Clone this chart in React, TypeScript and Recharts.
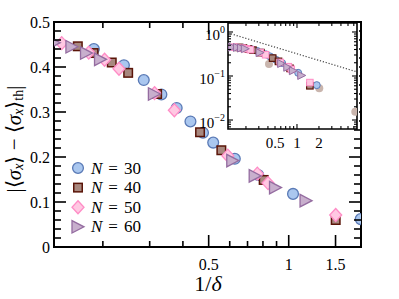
import React from 'react';
import { ScatterChart, Scatter, XAxis, YAxis, ReferenceArea, Legend } from 'recharts';

// ---------------- data ----------------
const n30X = [0.185, 0.24, 0.285, 0.332, 0.379, 0.427, 0.476, 0.52, 0.627, 0.768, 1.038, 1.865];
const n30Y = [0.44, 0.404, 0.371, 0.339, 0.309, 0.279, 0.254, 0.232, 0.196, 0.16, 0.118, 0.062];

const n40X = [0.161, 0.1846, 0.216, 0.249, 0.32, 0.464, 0.558, 0.805, 1.502];
const n40Y = [0.446, 0.431, 0.41, 0.387, 0.34, 0.255, 0.215, 0.149, 0.06];

const n50X = [0.14, 0.177, 0.203, 0.23, 0.313, 0.3715, 0.59, 0.762, 0.836, 1.502];
const n50Y = [0.453, 0.432, 0.416, 0.396, 0.342, 0.304, 0.203, 0.163, 0.142, 0.071];

const n60X = [0.1313, 0.153, 0.1736, 0.196, 0.3125, 0.616, 0.748, 0.892, 1.162];
const n60Y = [0.454, 0.445, 0.431, 0.417, 0.34, 0.192, 0.158, 0.132, 0.103];

const grayX = [0.4135, 2.02, 6.29];
const grayY = [0.187, 0.0526, 0.01545];

const guideX = [0.1135, 6.64];
const guideY = [0.95, 0.124];

const legendNames = ['30', '40', '50', '60'];

const mainXDomain = [0.131, 1.87];
const mainYDomain = [0, 0.5];
const mainXTicks = [0.2, 0.3, 0.4, 0.5, 0.6, 0.7, 0.8, 0.9, 1, 1.5];
const mainXMajor = [0.5, 1, 1.5];
const mainXLabels = ['0.5', '1', '1.5'];
const mainYTicks = [0, 0.02, 0.04, 0.06, 0.08, 0.1, 0.12, 0.14, 0.16, 0.18, 0.2, 0.22, 0.24, 0.26, 0.28, 0.3, 0.32, 0.34, 0.36, 0.38, 0.4, 0.42, 0.44, 0.46, 0.48, 0.5];
const mainYMajor = [0, 0.1, 0.2, 0.3, 0.4, 0.5];
const mainYLabels = ['0', '0.1', '0.2', '0.3', '0.4', '0.5'];

const insetXDomain = [0.1135, 6.64];
const insetYDomain = [0.00625, 1.6];
const insetXTicks = [0.2, 0.3, 0.4, 0.5, 0.6, 0.7, 0.8, 0.9, 1, 2, 3, 4, 5, 6];
const insetXMajor = [0.5, 1, 2];
const insetXLabels = ['0.5', '1', '2'];
const insetYTicks = [0.007, 0.008, 0.009, 0.01, 0.02, 0.03, 0.04, 0.05, 0.06, 0.07, 0.08, 0.09, 0.1, 0.2, 0.3, 0.4, 0.5, 0.6, 0.7, 0.8, 0.9, 1];
const insetYMajor = [0.01, 0.1, 1];
const insetYExp = ['−2', '−1', '0'];

const zip = (xs: number[], ys: number[]) => xs.map((x, i) => ({ x, y: ys[i] }));
const d30 = zip(n30X, n30Y);
const d40 = zip(n40X, n40Y);
const d50 = zip(n50X, n50Y);
const d60 = zip(n60X, n60Y);
const dGray = zip(grayX, grayY);
const dGuide = zip(guideX, guideY);

// ---------------- styles ----------------
const FONT = '"Liberation Serif", "Times New Roman", serif';
const C30 = { fill: '#aac7ef', stroke: '#5a7ab6' };
const C40 = { fill: '#a8887f', stroke: '#5a1408' };
const C50 = { fill: '#ffc8e2', stroke: '#ff8cc6' };
const C60 = { fill: '#c8afcd', stroke: '#946ca0' };
const CGRAY = { fill: '#c9b5ad' };

// main plot box
const M_LEFT = 54, M_RIGHT = 361, M_TOP = 22, M_BOTTOM = 247;
// inset box
const I_LEFT = 228, I_RIGHT = 357, I_TOP = 23, I_BOTTOM = 129;

// ---------------- shapes ----------------
const circle = (r: number, c: any, sw = 1.3) => (p: any) => (
  <circle cx={p.cx} cy={p.cy} r={r} fill={c.fill} stroke={c.stroke || 'none'} strokeWidth={sw} />
);
const square = (s: number, c: any, sw = 1.5) => (p: any) => (
  <rect x={p.cx - s / 2} y={p.cy - s / 2} width={s} height={s} fill={c.fill} stroke={c.stroke} strokeWidth={sw} />
);
const diamond = (w: number, h: number, c: any, sw = 1.3) => (p: any) => (
  <polygon
    points={`${p.cx},${p.cy - h / 2} ${p.cx + w / 2},${p.cy} ${p.cx},${p.cy + h / 2} ${p.cx - w / 2},${p.cy}`}
    fill={c.fill}
    stroke={c.stroke}
    strokeWidth={sw}
  />
);
const triangle = (w: number, h: number, c: any, sw = 1.3) => (p: any) => (
  <polygon
    points={`${p.cx - w / 2},${p.cy - h / 2} ${p.cx + w / 2},${p.cy} ${p.cx - w / 2},${p.cy + h / 2}`}
    fill={c.fill}
    stroke={c.stroke}
    strokeWidth={sw}
  />
);
const nothing = () => <g />;

const mainShapes = [circle(5.4, C30), square(8.5, C40), diamond(12, 13, C50), triangle(12, 12.5, C60)];
const insetShapes = [circle(3.5, C30, 1), square(6.5, C40, 1.2), square(6.5, C50, 1), triangle(8, 8, C60, 1)];

// ---------------- ticks ----------------
const MainXTick = (props: any) => {
  const { x, payload } = props;
  const v = payload.value;
  const mi = mainXMajor.indexOf(v);
  const len = mi >= 0 ? 12 : 6;
  return (
    <g>
      <line x1={x} x2={x} y1={M_BOTTOM} y2={M_BOTTOM - len} stroke="#000" strokeWidth={1.6} />
      <line x1={x} x2={x} y1={M_TOP} y2={M_TOP + len} stroke="#000" strokeWidth={1.6} />
      {mi >= 0 && (
        <text x={x} y={M_BOTTOM + 23} textAnchor="middle" fontFamily={FONT} fontSize={16} fill="#000">
          {mainXLabels[mi]}
        </text>
      )}
    </g>
  );
};

const MainYTick = (props: any) => {
  const { y, payload } = props;
  const v = payload.value;
  const mi = mainYMajor.indexOf(v);
  const len = mi >= 0 ? 12 : 7;
  return (
    <g>
      <line x1={M_LEFT} x2={M_LEFT + len} y1={y} y2={y} stroke="#000" strokeWidth={1.6} />
      <line x1={M_RIGHT} x2={M_RIGHT - len} y1={y} y2={y} stroke="#000" strokeWidth={1.6} />
      {mi >= 0 && (
        <text x={M_LEFT - 4} y={y + 5.5} textAnchor="end" fontFamily={FONT} fontSize={16} fill="#000">
          {mainYLabels[mi]}
        </text>
      )}
    </g>
  );
};

const InsetXTick = (props: any) => {
  const { x, payload } = props;
  const v = payload.value;
  const mi = insetXMajor.indexOf(v);
  const len = v === 1 ? 5 : 3;
  return (
    <g>
      <line x1={x} x2={x} y1={I_BOTTOM} y2={I_BOTTOM - len} stroke="#000" strokeWidth={1.1} />
      <line x1={x} x2={x} y1={I_TOP} y2={I_TOP + len} stroke="#000" strokeWidth={1.1} />
      {mi >= 0 && (
        <text x={x} y={I_BOTTOM + 19} textAnchor="middle" fontFamily={FONT} fontSize={15} fill="#000">
          {insetXLabels[mi]}
        </text>
      )}
    </g>
  );
};

const InsetYTick = (props: any) => {
  const { y, payload } = props;
  const v = payload.value;
  const mi = insetYMajor.indexOf(v);
  const len = mi >= 0 ? 5 : 3;
  return (
    <g>
      <line x1={I_LEFT} x2={I_LEFT + len} y1={y} y2={y} stroke="#000" strokeWidth={1.1} />
      <line x1={I_RIGHT} x2={I_RIGHT - len} y1={y} y2={y} stroke="#000" strokeWidth={1.1} />
      {mi >= 0 && (
        <text x={I_LEFT - 3} y={y + 8} textAnchor="end" fontFamily={FONT} fontSize={15} fill="#000">
          10
          <tspan fontSize={10} dy={-7}>
            {insetYExp[mi]}
          </tspan>
        </text>
      )}
    </g>
  );
};

// ---------------- labels / legend ----------------
const YLabel = () => (
  <text
    transform={`translate(14,139) rotate(-90)`}
    x={0}
    y={0}
    textAnchor="middle"
    dominantBaseline="central"
    fontFamily={FONT}
    fontSize={21}
    fill="#000"
  >
    <tspan>|⟨</tspan>
    <tspan fontStyle="italic">σ</tspan>
    <tspan fontStyle="italic" fontSize={14} dy={4}>x</tspan>
    <tspan dy={-4}>⟩ − ⟨</tspan>
    <tspan fontStyle="italic">σ</tspan>
    <tspan fontStyle="italic" fontSize={14} dy={4}>x</tspan>
    <tspan dy={-4}>⟩</tspan>
    <tspan fontSize={14} dy={4}>th</tspan>
    <tspan dy={-4}>|</tspan>
  </text>
);

const XLabel = () => (
  <text x={208} y={291} textAnchor="middle" fontFamily={FONT} fontSize={22} fill="#000">
    1/<tspan fontStyle="italic">δ</tspan>
  </text>
);

const LegendContent = () => (
  <svg width={90} height={84} style={{ display: 'block', overflow: 'visible' }}>
    {legendNames.map((n, i) => {
      const cy = 12 + i * 19.6;
      const Shape = mainShapes[i];
      return (
        <g key={n}>
          {Shape({ cx: 12, cy })}
          <text x={25} y={cy + 5.5} fontFamily={FONT} fontSize={17} fill="#000">
            <tspan fontStyle="italic">N</tspan>
            <tspan dx={6}>=</tspan>
            <tspan dx={6}>{n}</tspan>
          </text>
        </g>
      );
    })}
  </svg>
);

export default function App() {
  return (
    <div style={{ position: 'absolute', left: 0, top: 0, width: 399, height: 299, background: '#fff', overflow: 'hidden' }}>
      {/* main chart */}
      <div style={{ position: 'absolute', left: 0, top: 0 }}>
        <ScatterChart width={399} height={299} margin={{ top: M_TOP, left: 14, right: 399 - M_RIGHT, bottom: 22 }}>
          <XAxis
            dataKey="x"
            type="number"
            scale="log"
            domain={mainXDomain}
            allowDataOverflow
            ticks={mainXTicks}
            interval={0}
            tickSize={0}
            tickMargin={0}
            axisLine={false}
            tickLine={false}
            height={30}
            tick={(p: any) => <MainXTick {...p} />}
            label={{ content: () => <XLabel /> }}
          />
          <YAxis
            dataKey="y"
            type="number"
            domain={mainYDomain}
            allowDataOverflow
            ticks={mainYTicks}
            interval={0}
            tickSize={0}
            tickMargin={0}
            axisLine={false}
            tickLine={false}
            width={40}
            tick={(p: any) => <MainYTick {...p} />}
            label={{ content: () => <YLabel /> }}
          />
          <ReferenceArea
            x1={mainXDomain[0]}
            x2={mainXDomain[1]}
            y1={mainYDomain[0]}
            y2={mainYDomain[1]}
            fill="none"
            fillOpacity={0}
            stroke="#000"
            strokeWidth={2}
            ifOverflow="visible"
          />
          <Scatter name="N = 30" data={d30} shape={mainShapes[0]} isAnimationActive={false} />
          <Scatter name="N = 40" data={d40} shape={mainShapes[1]} isAnimationActive={false} />
          <Scatter name="N = 50" data={d50} shape={mainShapes[2]} isAnimationActive={false} />
          <Scatter name="N = 60" data={d60} shape={mainShapes[3]} isAnimationActive={false} />
          <Legend
            layout="vertical"
            align="center"
            verticalAlign="middle"
            wrapperStyle={{ left: 66, top: 156, width: 90, height: 84 }}
            content={() => <LegendContent />}
          />
        </ScatterChart>
      </div>

      {/* inset background */}
      <div
        style={{
          position: 'absolute',
          left: I_LEFT,
          top: I_TOP,
          width: M_RIGHT - 2 - I_LEFT,
          height: I_BOTTOM - I_TOP,
          background: '#fff',
        }}
      />

      {/* inset chart */}
      <div style={{ position: 'absolute', left: 0, top: 0 }}>
        <ScatterChart width={399} height={299} margin={{ top: I_TOP, left: I_LEFT - 30, right: 399 - I_RIGHT, bottom: 299 - I_BOTTOM - 20 }}>
          <XAxis
            dataKey="x"
            type="number"
            scale="log"
            domain={insetXDomain}
            allowDataOverflow
            ticks={insetXTicks}
            interval={0}
            tickSize={0}
            tickMargin={0}
            axisLine={false}
            tickLine={false}
            height={20}
            tick={(p: any) => <InsetXTick {...p} />}
          />
          <YAxis
            dataKey="y"
            type="number"
            scale="log"
            domain={insetYDomain}
            allowDataOverflow
            ticks={insetYTicks}
            interval={0}
            tickSize={0}
            tickMargin={0}
            axisLine={false}
            tickLine={false}
            width={30}
            tick={(p: any) => <InsetYTick {...p} />}
          />
          <ReferenceArea
            x1={insetXDomain[0]}
            x2={insetXDomain[1]}
            y1={insetYDomain[0]}
            y2={insetYDomain[1]}
            fill="none"
            fillOpacity={0}
            stroke="#000"
            strokeWidth={1.6}
            ifOverflow="visible"
          />
          <Scatter data={dGuide} shape={nothing} line={{ stroke: '#444', strokeWidth: 1.2, strokeDasharray: '1.2 1.8' }} isAnimationActive={false} />
          <Scatter data={dGray} shape={circle(4, CGRAY, 0)} isAnimationActive={false} />
          <Scatter data={d30} shape={insetShapes[0]} isAnimationActive={false} />
          <Scatter data={d40} shape={insetShapes[1]} isAnimationActive={false} />
          <Scatter data={d50} shape={insetShapes[2]} isAnimationActive={false} />
          <Scatter data={d60} shape={insetShapes[3]} isAnimationActive={false} />
        </ScatterChart>
      </div>
    </div>
  );
}
